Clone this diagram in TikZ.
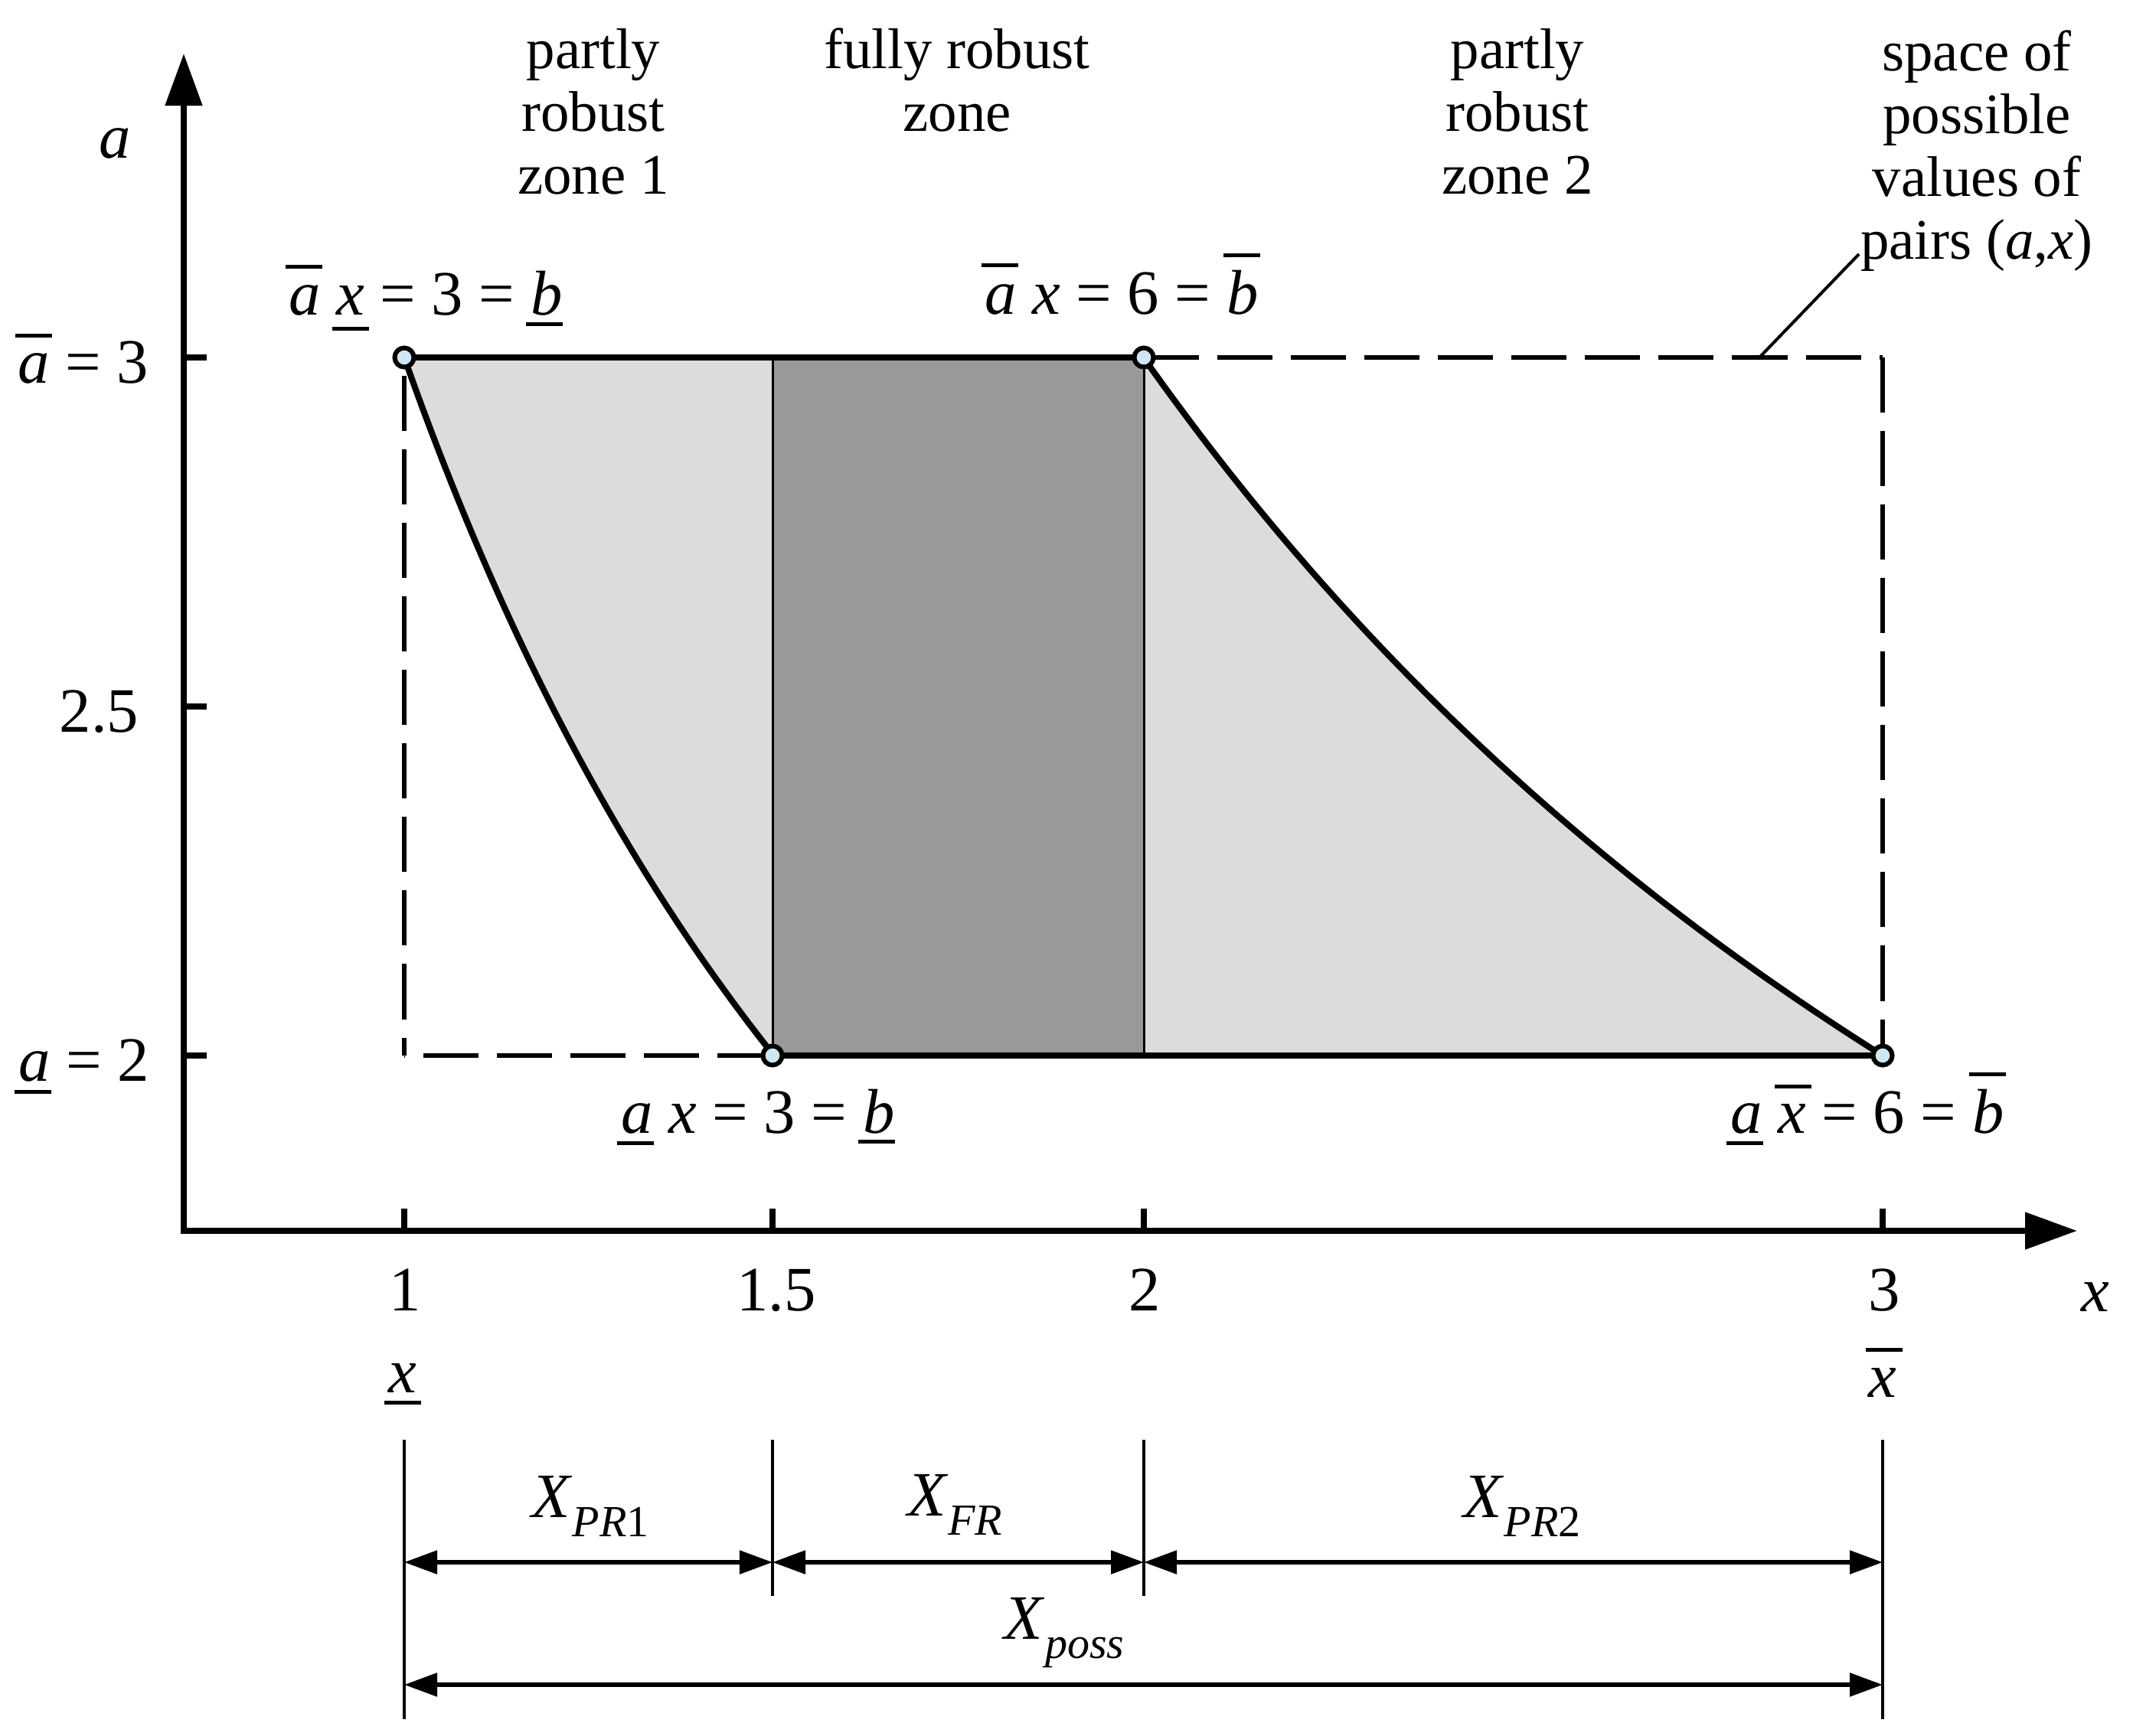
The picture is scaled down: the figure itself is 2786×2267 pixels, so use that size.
\documentclass[tikz,border=0pt]{standalone}
\usepackage{fontspec}
\setmainfont{Liberation Serif}
\usetikzlibrary{arrows.meta,calc}
\definecolor{lightzone}{RGB}{220,220,220}
\definecolor{darkzone}{RGB}{153,153,153}
\definecolor{markfill}{RGB}{208,230,243}
\newcommand\ovr[2]{\makebox[0pt][l]{\hspace*{-0.05em}\rule[#2]{0.58em}{0.06em}}\textit{#1}}
\newcommand\unr[2]{\makebox[0pt][l]{\hspace*{-0.07em}\rule[-#2]{0.58em}{0.06em}}\textit{#1}}
\newcommand\subx[1]{\raisebox{-0.25cm}{\fontsize{16.5}{18}\selectfont #1}}
\begin{document}
\begin{tikzpicture}[x=0.01cm,y=-0.01cm,
  declare function={XX(\t)=528+(\t-1)*965.5; AA(\t)=1379-(\t-2)*912;},
  thickline/.style={line width=0.08cm, line join=round},
  dashline/.style={line width=0.065cm, dash pattern=on 0.72cm off 0.24cm},
  gapdashline/.style={line width=0.065cm, dash pattern=on 0.72cm off 0.24cm, dash phase=0.72cm},
  thinline/.style={line width=0.03cm},
  axisline/.style={line width=0.08cm, line join=miter},
  tickline/.style={line width=0.075cm},
  dimline/.style={line width=0.055cm, {Triangle[length=0.43cm,width=0.3cm]}-{Triangle[length=0.43cm,width=0.3cm]}},
  extline/.style={line width=0.035cm},
  leaderline/.style={line width=0.04cm},
  markpt/.style={circle, draw, line width=0.06cm, fill=markfill, minimum size=0.25cm, inner sep=0pt},
  lbl/.style={font={\fontsize{23.5}{27}\selectfont}, inner sep=0pt, anchor=base},
  txt/.style={font={\fontsize{21.3}{23.3}\selectfont}, inner sep=0pt, anchor=base},
]
\useasboundingbox (0,0) rectangle (2786,2267);

% key points
\coordinate (P1) at (528,467);
\coordinate (P2) at (1494,467);
\coordinate (P3) at (1009,1379);
\coordinate (P4) at (2459,1379);
\coordinate (Q1) at (1009,467);
\coordinate (Q2) at (1494,1379);
\coordinate (C1) at (2459,467);
\coordinate (C2) at (528,1379);

% zones
\fill[lightzone] (P1) -- (P2) -- plot[domain=2:3,samples=80] ({XX(\x)},{AA(6/\x)}) -- (P3) -- plot[domain=1.5:1,samples=60] ({XX(\x)},{AA(3/\x)}) -- cycle;
\fill[darkzone] (Q1) rectangle (Q2);
\draw[thinline] (Q1) -- (P3);
\draw[thinline] (P2) -- (Q2);

% dashed rectangle of possible pairs
\draw[dashline] (P2) -- (C1);
\draw[dashline] (C1) -- (P4);
\draw[dashline] (P3) -- (C2);
\draw[gapdashline] (P1) -- (C2);

% boundaries
\draw[thickline] (P1) -- (P2);
\draw[thickline] (P3) -- (P4);
\draw[thickline] plot[domain=1:1.5,samples=60] ({XX(\x)},{AA(3/\x)});
\draw[thickline] plot[domain=2:3,samples=80] ({XX(\x)},{AA(6/\x)});

% axes
\coordinate (O) at (240,1608);
\coordinate (ytop) at (240,70);
\coordinate (xend) at (2713,1608);
\draw[axisline, {Triangle[length=0.68cm,width=0.47cm]}-{Triangle[length=0.68cm,width=0.47cm]}] (ytop) -- (O) -- (xend);
\foreach \yy in {467,923,1379} \draw[tickline] (240,\yy) -- (270,\yy);
\foreach \xx in {528,1009,1494,2459} \draw[tickline] (\xx,1608) -- (\xx,1579);

% markers
\node[markpt] (p1) at (P1) {};
\node[markpt] (p2) at (P2) {};
\node[markpt] (p3) at (P3) {};
\node[markpt] (p4) at (P4) {};

% axis labels
\node[lbl] (alab) at (150,207) {\textit{a}};
\node[lbl] (xlab) at (2737,1713) {\textit{x}};
\node[lbl, anchor=base east] (ya3) at (195,500) {\ovr{a}{0.72em} = 3};
\node[lbl, anchor=base east] (ya25) at (182,956) {2.5};
\node[lbl, anchor=base east] (ya2) at (196,1412) {\unr{a}{0.2em} = 2};
\node[lbl] (tx1) at (529,1712) {1};
\node[lbl] (tx15) at (1014,1712) {1.5};
\node[lbl] (tx2) at (1495,1712) {2};
\node[lbl] (tx3) at (2461,1712) {3};
\node[lbl] (xlow) at (526,1819) {\unr{x}{0.19em}};
\node[lbl] (xup) at (2459,1825) {\ovr{x}{0.72em}};

% point labels
\node[lbl] (l1) at (556,412) {\ovr{a}{0.74em} \unr{x}{0.24em} = 3 = \unr{b}{0.17em}};
\node[lbl] (l2) at (1465,410) {\ovr{a}{0.74em} \textit{x} = 6 = \ovr{b}{0.9em}};
\node[lbl] (l3) at (990,1480) {\unr{a}{0.19em} \textit{x} = 3 = \unr{b}{0.17em}};
\node[lbl] (l4) at (2439,1480) {\unr{a}{0.19em} \ovr{x}{0.7em} = 6 = \ovr{b}{0.9em}};

% zone titles
\node[txt] (z1) at (775,90) {\begin{tabular}[t]{@{}c@{}}partly\\robust\\zone 1\end{tabular}};
\node[txt] (zf) at (1250,90) {\begin{tabular}[t]{@{}c@{}}fully robust\\zone\end{tabular}};
\node[txt] (z2) at (1982,90) {\begin{tabular}[t]{@{}c@{}}partly\\robust\\zone 2\end{tabular}};
\node[txt] (sp) at (2582,93) {\begin{tabular}[t]{@{}c@{}}space of\\possible\\values of\\pairs (\textit{a},\textit{x})\end{tabular}};
\coordinate (lead) at (2298,467);
\coordinate (leadend) at (2428,332);
\draw[leaderline] (lead) -- (leadend);

% dimension lines
\coordinate (e1t) at (528,1881);  \coordinate (e1b) at (528,2246);
\coordinate (e2t) at (1009,1881); \coordinate (e2b) at (1009,2085);
\coordinate (e3t) at (1494,1881); \coordinate (e3b) at (1494,2085);
\coordinate (e4t) at (2459,1881); \coordinate (e4b) at (2459,2246);
\draw[extline] (e1t) -- (e1b);
\draw[extline] (e2t) -- (e2b);
\draw[extline] (e3t) -- (e3b);
\draw[extline] (e4t) -- (e4b);
\coordinate (d1) at (528,2041);
\coordinate (d2) at (1009,2041);
\coordinate (d3) at (1494,2041);
\coordinate (d4) at (2459,2041);
\coordinate (f1) at (528,2201);
\coordinate (f4) at (2459,2201);
\draw[dimline] (d1) -- (d2);
\draw[dimline] (d2) -- (d3);
\draw[dimline] (d3) -- (d4);
\draw[dimline] (f1) -- (f4);
\node[lbl] (xpr1) at (771,1982) {\textit{X}\subx{\textit{PR}1}};
\node[lbl] (xfr) at (1247,1980) {\textit{X}\subx{\textit{FR}}};
\node[lbl] (xpr2) at (1988,1982) {\textit{X}\subx{\textit{PR}2}};
\node[lbl] (xposs) at (1390,2141) {\textit{X}\subx{\textit{poss}}};
\end{tikzpicture}
\end{document}
